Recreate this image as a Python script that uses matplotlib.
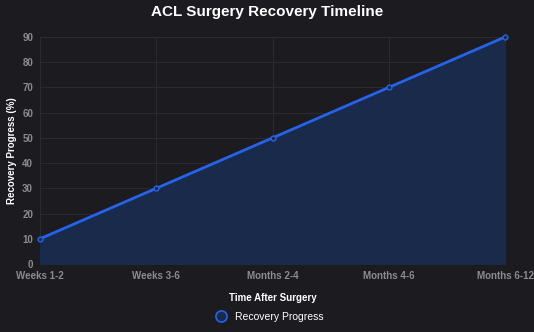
import numpy as np
import matplotlib.pyplot as plt
from matplotlib.lines import Line2D

plt.rcParams['font.family'] = ['Liberation Sans', 'DejaVu Sans']

stages = ['Weeks 1-2', 'Weeks 3-6', 'Months 2-4', 'Months 4-6', 'Months 6-12']
progress = [10, 30, 50, 70, 90]

bg = '#1b1b20'
line_color = '#2563eb'
fill_color = '#1a2a4a'
tick_color = '#8c8c90'
grid_color = '#2a2a30'

fig = plt.figure(figsize=(5.34, 3.32), dpi=100, facecolor=bg)
ax = fig.add_axes([0.0749, 0.2048, 0.8708, 0.6838], facecolor=bg)

x = np.arange(len(stages))
ax.fill_between(x, progress, 0, color=fill_color, zorder=1)
ax.plot(x, progress, color=line_color, lw=2, zorder=3, clip_on=False,
        marker='o', ms=3.5, mfc=fill_color, mec=line_color, mew=1)

ax.set_xlim(0, len(stages) - 1)
ax.set_ylim(0, 90)
ax.set_xticks(x)
ax.set_xticklabels(stages)
ax.set_yticks(range(0, 91, 10))
ax.tick_params(colors=tick_color, labelsize=7, length=0, pad=5)
for lbl in ax.get_xticklabels() + ax.get_yticklabels():
    lbl.set_fontweight('bold')
ax.grid(True, color=grid_color, lw=0.8)
ax.set_axisbelow(True)
for s in ax.spines.values():
    s.set_visible(False)

ax.set_xlabel('Time After Surgery', color='white', fontsize=7, fontweight='bold', labelpad=9)
ax.set_ylabel('Recovery Progress (%)', color='white', fontsize=7, fontweight='bold', labelpad=4)
fig.suptitle('ACL Surgery Recovery Timeline', color='white', fontsize=11,
             fontweight='bold', y=0.985)

handle = Line2D([], [], ls='none', marker='o', ms=8, mfc=fill_color,
                mec=line_color, mew=1.2)
fig.legend([handle], ['Recovery Progress'], loc='center', bbox_to_anchor=(0.5, 0.045),
           frameon=False, fontsize=7.5, labelcolor='white', handletextpad=0.3)

fig.savefig('out.png', dpi=100, facecolor=bg)
